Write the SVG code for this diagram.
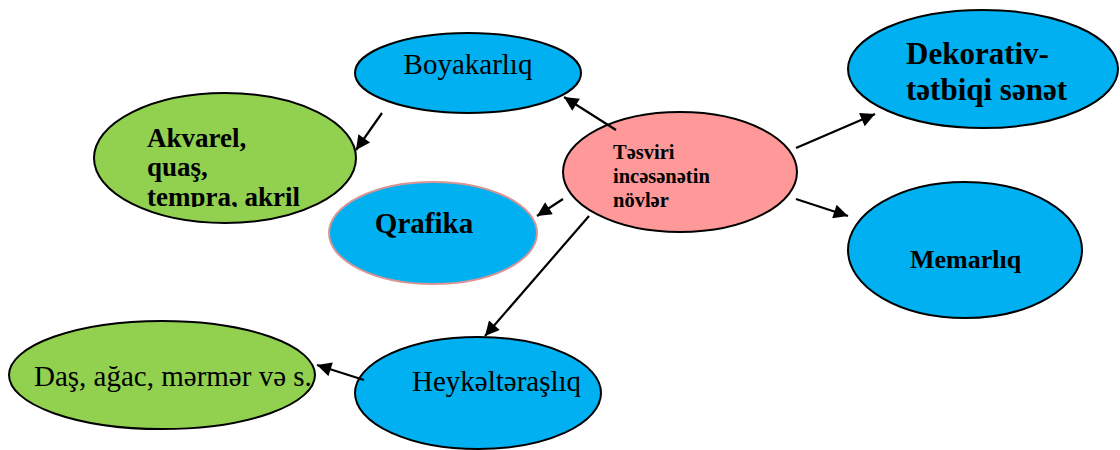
<svg xmlns="http://www.w3.org/2000/svg" width="1120" height="450" viewBox="0 0 1120 450">
<style>
.node{stroke:#000;stroke-width:2}
.blue{fill:#00B0F0}
.green{fill:#92D050}
.pink{fill:#FF9999}
.t{font-family:"Liberation Serif","Times New Roman",serif;fill:#000}
.b{font-weight:bold}
.conn line{stroke:#000;stroke-width:2.2;marker-end:url(#ah)}
</style>
<defs>
<marker id="ah" viewBox="0 0 10 10" refX="10" refY="5" markerWidth="7.5" markerHeight="6.5" markerUnits="strokeWidth" orient="auto">
<path d="M0,0 L10,5 L0,10 z" fill="#000"/>
</marker>
<clipPath id="clipA"><rect x="90" y="90" width="270" height="117"/></clipPath>
</defs>
<rect width="1120" height="450" fill="#fff"/>
<g id="akvarel">
<ellipse class="node green" cx="225" cy="158" rx="131" ry="65"/>
<g clip-path="url(#clipA)">
<text class="t b" font-size="27" x="147" y="147">Akvarel,</text>
<text class="t b" font-size="27" x="147" y="176">quaş,</text>
<text class="t b" font-size="27" x="147" y="205.5">tempra, akril</text>
</g>
</g>
<g id="boyakarliq">
<ellipse class="node blue" cx="468" cy="73" rx="113" ry="40"/>
<text class="t" font-size="29" x="468" y="74" text-anchor="middle">Boyakarlıq</text>
</g>
<g id="qrafika">
<ellipse class="blue" cx="433" cy="233" rx="104" ry="51" stroke="#D99594" stroke-width="2"/>
<text class="t b" font-size="29" x="424" y="233" text-anchor="middle">Qrafika</text>
</g>
<g id="center">
<ellipse class="node pink" cx="680" cy="172" rx="117" ry="60"/>
<text class="t b" font-size="20.5" x="613" y="159">Təsviri</text>
<text class="t b" font-size="20.5" x="613" y="183">incəsənətin</text>
<text class="t b" font-size="20.5" x="613" y="207">növlər</text>
</g>
<g id="dekorativ">
<ellipse class="node blue" cx="983" cy="69" rx="135" ry="59"/>
<text class="t b" font-size="31" x="906" y="64">Dekorativ-</text>
<text class="t b" font-size="31" x="906" y="100">tətbiqi sənət</text>
</g>
<g id="memarliq">
<ellipse class="node blue" cx="965" cy="250" rx="117" ry="68"/>
<text class="t b" font-size="26" x="910" y="268">Memarlıq</text>
</g>
<g id="das">
<ellipse class="node green" cx="162" cy="375" rx="153" ry="54"/>
<text class="t" font-size="29" x="34" y="386">Daş, ağac, mərmər və s.</text>
</g>
<g id="heykeltarasliq">
<ellipse class="node blue" cx="478" cy="393" rx="123" ry="56"/>
<text class="t" font-size="29" x="412" y="391">Heykəltəraşlıq</text>
</g>
<g id="connectors" class="conn">
<line x1="616" y1="130" x2="564" y2="97"/>
<line x1="382" y1="113" x2="356" y2="150"/>
<line x1="563" y1="199" x2="537" y2="216"/>
<line x1="589" y1="216" x2="485" y2="336"/>
<line x1="796" y1="148" x2="875" y2="114"/>
<line x1="796" y1="199" x2="848" y2="216"/>
<line x1="364" y1="380" x2="317" y2="365"/>
</g>
</svg>
